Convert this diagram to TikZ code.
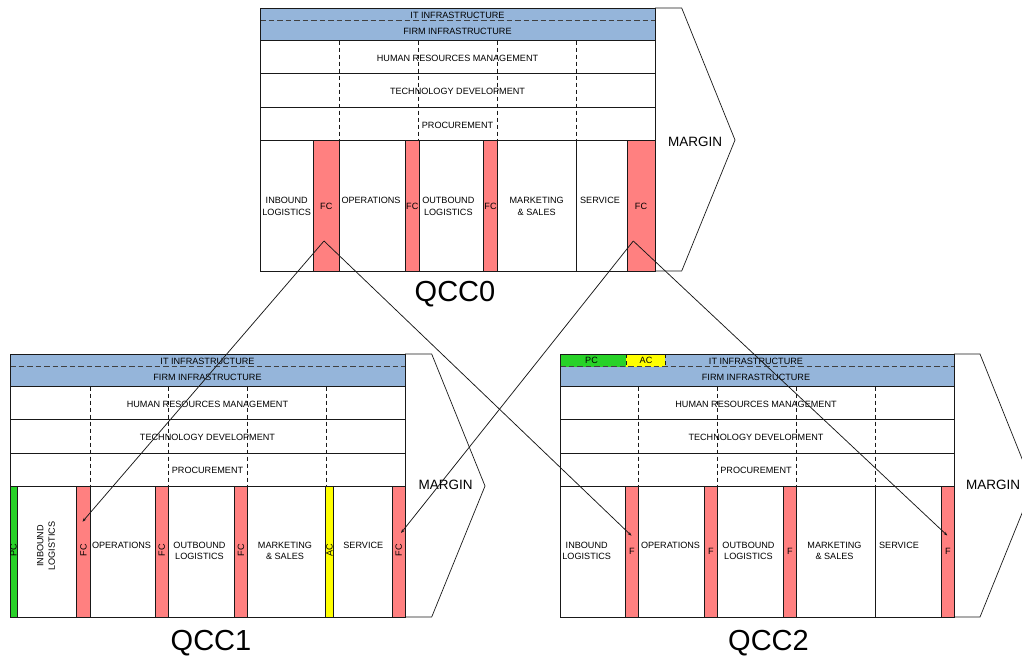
\documentclass[tikz,border=0pt]{standalone}
\usepackage{fontspec}
\setmainfont{Liberation Sans}
\usetikzlibrary{arrows.meta}
\definecolor{infra}{RGB}{149,181,218}
\definecolor{barred}{RGB}{255,128,128}
\definecolor{pcgreen}{RGB}{40,210,40}
\definecolor{acyellow}{RGB}{255,255,0}
\tikzset{
  lbl/.style={font=\fontsize{9.1}{11.6}\selectfont, align=center, inner sep=0pt, text=black},
  marg/.style={font=\fontsize{13.5}{15}\selectfont, inner sep=0pt, text=black},
  qcc/.style={font=\fontsize{29}{32}\selectfont, inner sep=0pt},
  frame/.style={draw=black!90, line width=0.7pt},
  supdash/.style={draw=black!90, line width=0.7pt, dash pattern=on 4pt off 3pt},
  itdash/.style={draw=black!75, line width=0.8pt, dash pattern=on 5.5pt off 3pt},
  redbar/.style={fill=barred, draw=black!90, line width=0.7pt},
  greenbar/.style={fill=pcgreen, draw=black!90, line width=0.7pt},
  yellowbar/.style={fill=acyellow, draw=black!90, line width=0.7pt},
  link/.style={draw=black!90, line width=0.75pt, -{Stealth[length=4pt,width=3pt]}},
}
\begin{document}
\begin{tikzpicture}[x=1pt,y=-1pt]
\clip (0,0) rectangle (1022,661);
\fill[white] (0,0) rectangle (1022,661);

% ================= QCC0 =================
\begin{scope}[shift={(260,8)}]
  \fill[infra] (0,0) rectangle (395,32.7);
  \draw[itdash] (0,12.7) -- (395,12.7);
  \foreach \y in {32.7,65.7,99,132} \draw[frame] (0,\y) -- (395,\y);
  \foreach \x in {79.3,158.3,237.3,316.7} \draw[supdash] (\x,32.7) -- (\x,132);
  \draw[frame] (316.7,132) -- (316.7,263);
  \draw[redbar] (53.3,132) rectangle (79.3,263);
  \draw[redbar] (145.7,132) rectangle (159,263);
  \draw[redbar] (223.7,132) rectangle (237.3,263);
  \draw[redbar] (367,132) rectangle (395,263);
  \draw[frame] (0,0) rectangle (395,263);
  \draw[frame] (395,0) -- (421.7,0) -- (475,132) -- (421.7,263) -- (395,263);
  \node[lbl] (q0it) at (197.5,7) {IT INFRASTRUCTURE};
  \node[lbl] (q0firm) at (197.5,23.2) {FIRM INFRASTRUCTURE};
  \node[lbl] (q0hr) at (197.5,50) {HUMAN RESOURCES MANAGEMENT};
  \node[lbl] (q0td) at (197.5,83) {TECHNOLOGY DEVELOPMENT};
  \node[lbl] (q0pr) at (197.5,117) {PROCUREMENT};
  \node[lbl] (q0in) at (26.7,198.5) {INBOUND\\LOGISTICS};
  \node[lbl] (q0f1) at (66.3,198.5) {FC};
  \node[lbl] (q0op) at (111,192.7) {OPERATIONS};
  \node[lbl] (q0f2) at (152.3,198.5) {FC};
  \node[lbl] (q0ou) at (188.3,198.5) {OUTBOUND\\LOGISTICS};
  \node[lbl] (q0f3) at (230.5,198.5) {FC};
  \node[lbl] (q0mk) at (276.7,198.5) {MARKETING\\\& SALES};
  \node[lbl] (q0sv) at (340,192.7) {SERVICE};
  \node[lbl] (q0f4) at (381,198.5) {FC};
  \node[marg] (q0mg) at (435,134) {MARGIN};
\end{scope}
\node[qcc] (q0lab) at (455,294.5) {QCC0};

% ================= QCC1 =================
\begin{scope}[shift={(10,354)}]
  \fill[infra] (0,0) rectangle (395,32.7);
  \draw[itdash] (0,12.7) -- (395,12.7);
  \foreach \y in {32.7,65.7,99,132} \draw[frame] (0,\y) -- (395,\y);
  \foreach \x in {80.3,158.3,237.7,316.7} \draw[supdash] (\x,32.7) -- (\x,132);
  \draw[greenbar] (0,132) rectangle (7,263);
  \draw[redbar] (66.7,132) rectangle (80.3,263);
  \draw[redbar] (145,132) rectangle (158.3,263);
  \draw[redbar] (224.3,132) rectangle (237.7,263);
  \draw[yellowbar] (315.7,132) rectangle (323.3,263);
  \draw[redbar] (382.3,132) rectangle (395,263);
  \draw[frame] (0,0) rectangle (395,263);
  \draw[frame] (395,0) -- (421.7,0) -- (475,132) -- (421.7,263) -- (395,263);
  \node[lbl] (q1it) at (197.5,7) {IT INFRASTRUCTURE};
  \node[lbl] (q1firm) at (197.5,23.2) {FIRM INFRASTRUCTURE};
  \node[lbl] (q1hr) at (197.5,50.5) {HUMAN RESOURCES MANAGEMENT};
  \node[lbl] (q1td) at (197.5,83) {TECHNOLOGY DEVELOPMENT};
  \node[lbl] (q1pr) at (197.5,116.5) {PROCUREMENT};
  \node[lbl, rotate=90] (q1pc) at (3.5,196) {PC};
  \node[lbl, rotate=90] (q1in) at (36,192) {INBOUND\\LOGISTICS};
  \node[lbl, rotate=90] (q1f1) at (73.5,196) {FC};
  \node[lbl] (q1op) at (111.5,191) {OPERATIONS};
  \node[lbl, rotate=90] (q1f2) at (151.7,196) {FC};
  \node[lbl] (q1ou) at (189.5,197) {OUTBOUND\\LOGISTICS};
  \node[lbl, rotate=90] (q1f3) at (231,196) {FC};
  \node[lbl] (q1mk) at (275,197) {MARKETING\\\& SALES};
  \node[lbl, rotate=90] (q1ac) at (319.5,196) {AC};
  \node[lbl] (q1sv) at (353.3,191) {SERVICE};
  \node[lbl, rotate=90] (q1f4) at (388.7,196) {FC};
  \node[marg] (q1mg) at (435.5,131) {MARGIN};
\end{scope}
\node[qcc] (q1lab) at (211,643.5) {QCC1};

% ================= QCC2 =================
\begin{scope}[shift={(560,354)}]
  \fill[infra] (0,0) rectangle (394,32.7);
  \fill[pcgreen] (0,0) rectangle (66,12.7);
  \fill[acyellow] (66,0) rectangle (105,12.7);
  \draw[supdash] (66,0) -- (66,12.7);
  \draw[supdash] (105,0) -- (105,12.7);
  \draw[itdash] (0,12.7) -- (394,12.7);
  \foreach \y in {32.7,65.7,99,132} \draw[frame] (0,\y) -- (394,\y);
  \foreach \x in {78.3,157.7,236.3,315.7} \draw[supdash] (\x,32.7) -- (\x,132);
  \draw[frame] (315.7,132) -- (315.7,263);
  \draw[redbar] (65.7,132) rectangle (78.3,263);
  \draw[redbar] (144,132) rectangle (157.7,263);
  \draw[redbar] (223.3,132) rectangle (236.3,263);
  \draw[redbar] (381.7,132) rectangle (394,263);
  \draw[frame] (0,0) rectangle (394,263);
  \draw[frame] (394,0) -- (420,0) -- (473,132) -- (420,263) -- (394,263);
  \node[lbl] (q2pc) at (31.5,6.5) {PC};
  \node[lbl] (q2ac) at (86,6.5) {AC};
  \node[lbl] (q2it) at (196,7) {IT INFRASTRUCTURE};
  \node[lbl] (q2firm) at (196,23.2) {FIRM INFRASTRUCTURE};
  \node[lbl] (q2hr) at (196,50.5) {HUMAN RESOURCES MANAGEMENT};
  \node[lbl] (q2td) at (196,83) {TECHNOLOGY DEVELOPMENT};
  \node[lbl] (q2pr) at (196,116.5) {PROCUREMENT};
  \node[lbl] (q2in) at (26.7,197) {INBOUND\\LOGISTICS};
  \node[lbl] (q2f1) at (72,197) {F};
  \node[lbl] (q2op) at (110.5,191) {OPERATIONS};
  \node[lbl] (q2f2) at (150.8,197) {F};
  \node[lbl] (q2ou) at (188.5,197) {OUTBOUND\\LOGISTICS};
  \node[lbl] (q2f3) at (229.8,197) {F};
  \node[lbl] (q2mk) at (274.5,197) {MARKETING\\\& SALES};
  \node[lbl] (q2sv) at (339,191) {SERVICE};
  \node[lbl] (q2f4) at (387.8,197) {F};
  \node[marg] (q2mg) at (433,131) {MARGIN};
\end{scope}
\node[qcc] (q2lab) at (768.5,643.5) {QCC2};

% ================= connectors =================
\coordinate (s1) at (324,241);
\coordinate (s4) at (633.3,241);
\coordinate (e11) at (82.5,521.7);
\coordinate (e14) at (401,533);
\coordinate (e21) at (631.5,535.7);
\coordinate (e24) at (947.3,535.5);
\draw[link] (s1) -- (e11);
\draw[link] (s1) -- (e21);
\draw[link] (s4) -- (e14);
\draw[link] (s4) -- (e24);
\end{tikzpicture}
\end{document}
